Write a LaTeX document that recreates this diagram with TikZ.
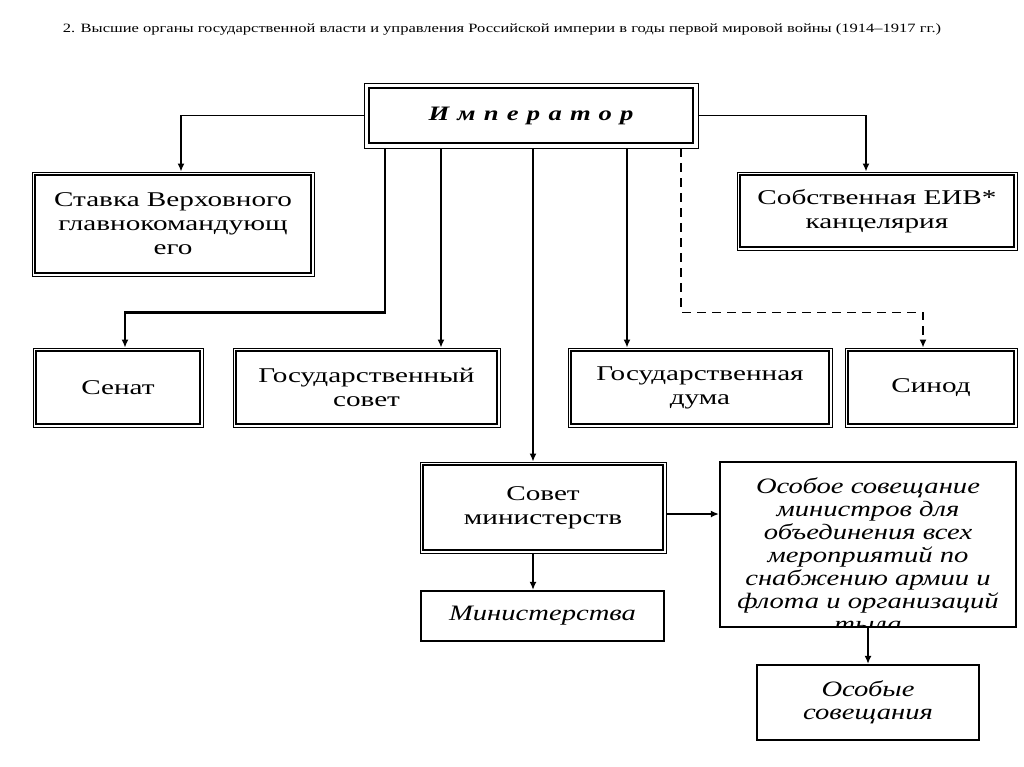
\documentclass[tikz,border=0pt]{standalone}
\usepackage{fontspec}
\setmainfont{Liberation Serif}
\newfontfamily\bxfont{Liberation Serif}[FakeStretch=1.39]
\newfontfamily\itfont{Liberation Serif}[FakeStretch=1.3]
\newfontfamily\impfont{Liberation Serif}[FakeStretch=1.3,LetterSpace=40]
\newfontfamily\ttlfont{Liberation Serif}[FakeStretch=1.3]
\usetikzlibrary{arrows.meta,calc}
\begin{document}
\begin{tikzpicture}[x=1pt,y=-1pt,
  dbox/.style={draw, line width=0.8pt, inner sep=0pt, align=center,
    font=\bxfont\fontsize{21}{24}\selectfont},
  sbox/.style={draw, line width=2.2pt, inner sep=0pt, align=center,
    font=\itfont\itshape\fontsize{22}{23}\selectfont},
  itx/.style={inner sep=0pt, align=center,
    font=\itfont\itshape\fontsize{22}{23}\selectfont},
  ln/.style={line width=1.6pt},
  thk/.style={line width=2.6pt},
  tip/.style={-{Latex[length=8pt,width=7pt]}}
]
\useasboundingbox[fill=white] (0,0) rectangle (1024,767);

\node[inner sep=0pt, font=\ttlfont\fontsize{12.7}{14}\selectfont] (title) at (502,29.5)
  {2. Высшие органы государственной власти и управления Российской империи в годы первой мировой войны (1914–1917 гг.)};

\node[dbox, minimum width=334pt, minimum height=65pt] (imp) at (531,115.5)
  {\impfont\bfseries\itshape\fontsize{20.5}{24}\selectfont Император};
\node[dbox, minimum width=282pt, minimum height=104pt] (stavka) at (173,224)
  {Ставка Верховного\\главнокомандующ\\его};
\node[dbox, minimum width=280pt, minimum height=78pt] (sobst) at (877,211)
  {Собственная ЕИВ*\\канцелярия};
\node[dbox, minimum width=170pt, minimum height=79pt] (senat) at (118,387.5) {Сенат};
\node[dbox, minimum width=267pt, minimum height=79pt] (sovet) at (366.5,387.5)
  {Государственный\\совет};
\node[dbox, minimum width=264pt, minimum height=79pt] (duma) at (700,387.5)
  {Государственная\\дума};
\node[dbox, minimum width=172pt, minimum height=79pt] (sinod) at (931,387.5) {Синод};
\node[dbox, minimum width=246pt, minimum height=91pt] (sovmin) at (543,507.5)
  {Совет\\министерств};
\node[sbox, minimum width=243pt, minimum height=50pt] (min) at (542.5,616) {Министерства};
\node[sbox, minimum width=296pt, minimum height=165pt] (osoboe) at (868,544.5) {};
\node[sbox, minimum width=222pt, minimum height=75pt] (osobye) at (868,702.5)
  {Особые\\совещания};

\begin{scope}
  \clip ([xshift=1.5pt,yshift=-1.5pt]osoboe.north west) rectangle ([xshift=-1.5pt,yshift=1.5pt]osoboe.south east);
  \node[itx, anchor=north] (osobtext) at (868,478)
    {Особое совещание\\министров для\\объединения всех\\мероприятий по\\снабжению армии и\\флота и организаций\\тыла};
\end{scope}

\foreach \n/\d in {imp/5.5, stavka/3.5, sobst/3.5, senat/3.5, sovet/3.5, duma/3.5, sinod/3.5, sovmin/3.5}
  \draw[line width=2pt] ([xshift=\d pt,yshift=-\d pt]\n.north west) rectangle ([xshift=-\d pt,yshift=\d pt]\n.south east);

\draw[ln,tip] (imp.west) -| ([xshift=8pt]stavka.north);
\draw[ln,tip] (imp.east) -| ([xshift=-11pt]sobst.north);
\draw[thk,tip] ([xshift=-146pt]imp.south) -- ++(0,164) -| ([xshift=7pt]senat.north);
\draw[ln,tip] ([xshift=-90pt]imp.south) -- ([xshift=-90pt]imp.south |- sovet.north);
\draw[ln,tip] ([xshift=2pt]imp.south) -- ([xshift=2pt]imp.south |- sovmin.north);
\draw[thk,tip] ([xshift=96pt]imp.south) -- ([xshift=96pt]imp.south |- duma.north);
\draw[ln,tip,dash pattern=on 9pt off 6pt] ([xshift=150pt]imp.south) -- ++(0,164) -| ([xshift=-8pt]sinod.north);
\draw[ln,tip] ([yshift=-6.5pt]sovmin.east) -- ([yshift=-6.5pt]sovmin.east -| osoboe.west);
\draw[ln,tip] ([xshift=-10pt]sovmin.south) -- ([xshift=-10pt]sovmin.south |- min.north);
\draw[ln,tip] (osoboe.south) -- (osobye.north);
\end{tikzpicture}
\end{document}
